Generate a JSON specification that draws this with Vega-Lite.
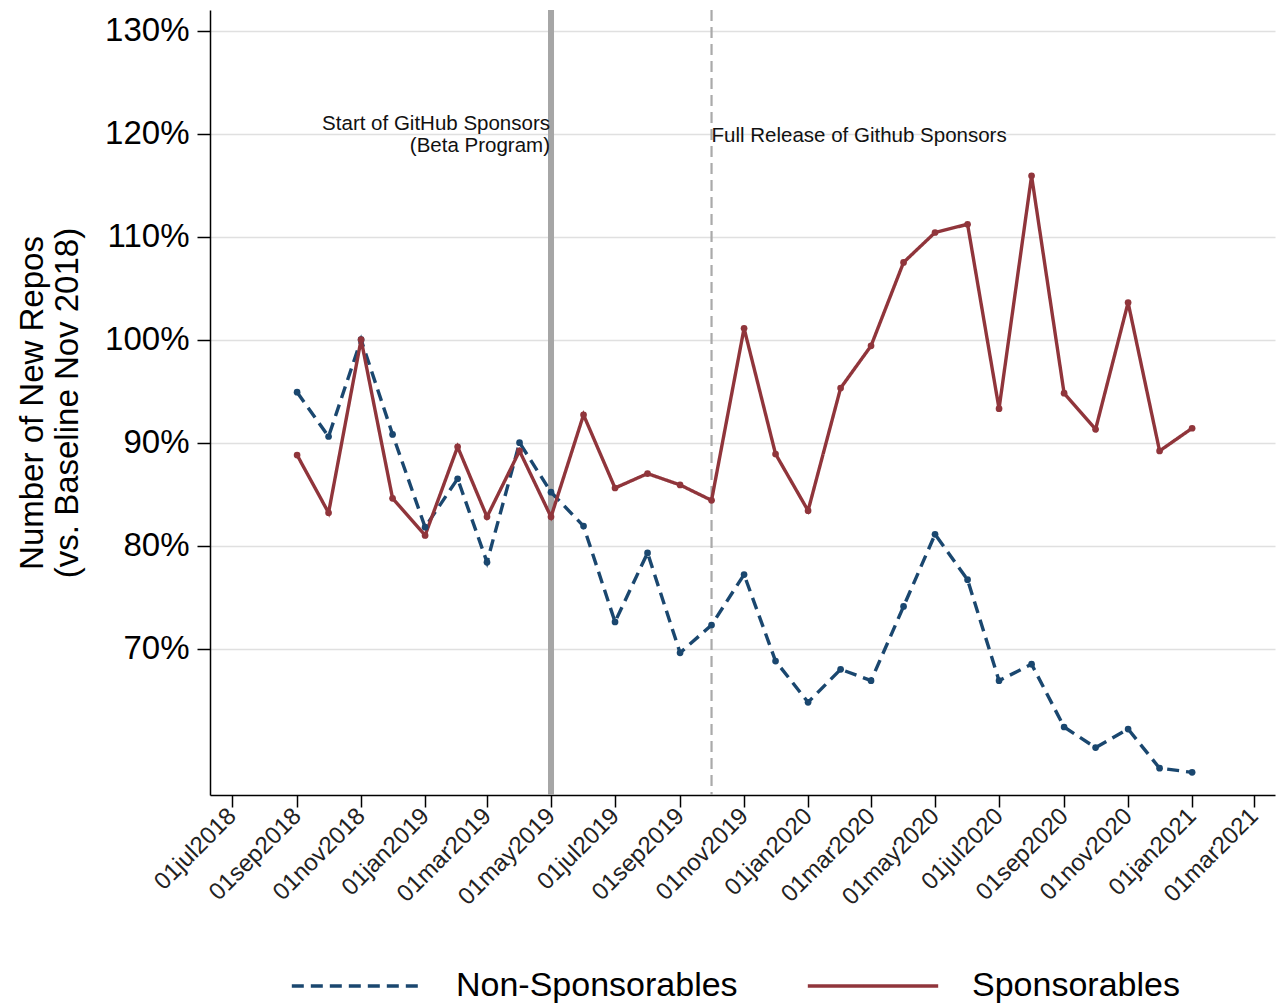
{
  "$schema": "https://vega.github.io/schema/vega-lite/v6.json",
  "width": 1065,
  "height": 785,
  "autosize": {"type": "none"},
  "padding": {"left": 210, "top": 10, "right": 6, "bottom": 211},
  "background": "white",
  "config": {
    "view": {"stroke": null},
    "font": "Liberation Sans",
    "axis": {"labelColor": "black", "titleColor": "black", "domainColor": "black", "tickColor": "black", "labelFont": "Liberation Sans", "titleFont": "Liberation Sans"}
  },
  "datasets": {
    "series": [
      {"date": "2018-09-01", "series": "Non-Sponsorables", "value": 94.9},
      {"date": "2018-10-01", "series": "Non-Sponsorables", "value": 90.6},
      {"date": "2018-11-01", "series": "Non-Sponsorables", "value": 100.0},
      {"date": "2018-12-01", "series": "Non-Sponsorables", "value": 90.8},
      {"date": "2019-01-01", "series": "Non-Sponsorables", "value": 81.8},
      {"date": "2019-02-01", "series": "Non-Sponsorables", "value": 86.5},
      {"date": "2019-03-01", "series": "Non-Sponsorables", "value": 78.4},
      {"date": "2019-04-01", "series": "Non-Sponsorables", "value": 90.0},
      {"date": "2019-05-01", "series": "Non-Sponsorables", "value": 85.2},
      {"date": "2019-06-01", "series": "Non-Sponsorables", "value": 81.9},
      {"date": "2019-07-01", "series": "Non-Sponsorables", "value": 72.6},
      {"date": "2019-08-01", "series": "Non-Sponsorables", "value": 79.3},
      {"date": "2019-09-01", "series": "Non-Sponsorables", "value": 69.6},
      {"date": "2019-10-01", "series": "Non-Sponsorables", "value": 72.3},
      {"date": "2019-11-01", "series": "Non-Sponsorables", "value": 77.2},
      {"date": "2019-12-01", "series": "Non-Sponsorables", "value": 68.8},
      {"date": "2020-01-01", "series": "Non-Sponsorables", "value": 64.8},
      {"date": "2020-02-01", "series": "Non-Sponsorables", "value": 68.0},
      {"date": "2020-03-01", "series": "Non-Sponsorables", "value": 66.9},
      {"date": "2020-04-01", "series": "Non-Sponsorables", "value": 74.1},
      {"date": "2020-05-01", "series": "Non-Sponsorables", "value": 81.1},
      {"date": "2020-06-01", "series": "Non-Sponsorables", "value": 76.7},
      {"date": "2020-07-01", "series": "Non-Sponsorables", "value": 66.9},
      {"date": "2020-08-01", "series": "Non-Sponsorables", "value": 68.5},
      {"date": "2020-09-01", "series": "Non-Sponsorables", "value": 62.4},
      {"date": "2020-10-01", "series": "Non-Sponsorables", "value": 60.4},
      {"date": "2020-11-01", "series": "Non-Sponsorables", "value": 62.2},
      {"date": "2020-12-01", "series": "Non-Sponsorables", "value": 58.4},
      {"date": "2021-01-01", "series": "Non-Sponsorables", "value": 58.0},
      {"date": "2018-09-01", "series": "Sponsorables", "value": 88.8},
      {"date": "2018-10-01", "series": "Sponsorables", "value": 83.2},
      {"date": "2018-11-01", "series": "Sponsorables", "value": 100.0},
      {"date": "2018-12-01", "series": "Sponsorables", "value": 84.6},
      {"date": "2019-01-01", "series": "Sponsorables", "value": 81.0},
      {"date": "2019-02-01", "series": "Sponsorables", "value": 89.6},
      {"date": "2019-03-01", "series": "Sponsorables", "value": 82.8},
      {"date": "2019-04-01", "series": "Sponsorables", "value": 89.2},
      {"date": "2019-05-01", "series": "Sponsorables", "value": 82.8},
      {"date": "2019-06-01", "series": "Sponsorables", "value": 92.7},
      {"date": "2019-07-01", "series": "Sponsorables", "value": 85.6},
      {"date": "2019-08-01", "series": "Sponsorables", "value": 87.0},
      {"date": "2019-09-01", "series": "Sponsorables", "value": 85.9},
      {"date": "2019-10-01", "series": "Sponsorables", "value": 84.4},
      {"date": "2019-11-01", "series": "Sponsorables", "value": 101.1},
      {"date": "2019-12-01", "series": "Sponsorables", "value": 88.9},
      {"date": "2020-01-01", "series": "Sponsorables", "value": 83.4},
      {"date": "2020-02-01", "series": "Sponsorables", "value": 95.3},
      {"date": "2020-03-01", "series": "Sponsorables", "value": 99.4},
      {"date": "2020-04-01", "series": "Sponsorables", "value": 107.5},
      {"date": "2020-05-01", "series": "Sponsorables", "value": 110.4},
      {"date": "2020-06-01", "series": "Sponsorables", "value": 111.2},
      {"date": "2020-07-01", "series": "Sponsorables", "value": 93.3},
      {"date": "2020-08-01", "series": "Sponsorables", "value": 115.9},
      {"date": "2020-09-01", "series": "Sponsorables", "value": 94.8},
      {"date": "2020-10-01", "series": "Sponsorables", "value": 91.3},
      {"date": "2020-11-01", "series": "Sponsorables", "value": 103.6},
      {"date": "2020-12-01", "series": "Sponsorables", "value": 89.2},
      {"date": "2021-01-01", "series": "Sponsorables", "value": 91.4}
    ],
    "beta": [{"date": "2019-05-01"}],
    "full": [{"date": "2019-10-01"}],
    "notesRight": [
      {"date": "2019-05-01", "value": 120.9, "label": "Start of GitHub Sponsors"},
      {"date": "2019-05-01", "value": 118.8, "label": "(Beta Program)"}
    ],
    "notesLeft": [
      {"date": "2019-10-01", "value": 119.8, "label": "Full Release of Github Sponsors"}
    ]
  },
  "encoding": {
    "x": {
      "field": "date",
      "type": "temporal",
      "scale": {
        "type": "utc",
        "domain": [
          {"year": 2018, "month": 6, "date": 10, "utc": true},
          {"year": 2021, "month": 3, "date": 21, "utc": true}
        ]
      },
      "axis": {
        "title": null,
        "grid": false,
        "values": [
          {"year": 2018, "month": 7, "date": 1, "utc": true},
          {"year": 2018, "month": 9, "date": 1, "utc": true},
          {"year": 2018, "month": 11, "date": 1, "utc": true},
          {"year": 2019, "month": 1, "date": 1, "utc": true},
          {"year": 2019, "month": 3, "date": 1, "utc": true},
          {"year": 2019, "month": 5, "date": 1, "utc": true},
          {"year": 2019, "month": 7, "date": 1, "utc": true},
          {"year": 2019, "month": 9, "date": 1, "utc": true},
          {"year": 2019, "month": 11, "date": 1, "utc": true},
          {"year": 2020, "month": 1, "date": 1, "utc": true},
          {"year": 2020, "month": 3, "date": 1, "utc": true},
          {"year": 2020, "month": 5, "date": 1, "utc": true},
          {"year": 2020, "month": 7, "date": 1, "utc": true},
          {"year": 2020, "month": 9, "date": 1, "utc": true},
          {"year": 2020, "month": 11, "date": 1, "utc": true},
          {"year": 2021, "month": 1, "date": 1, "utc": true},
          {"year": 2021, "month": 3, "date": 1, "utc": true}
        ],
        "labelExpr": "lower(utcFormat(datum.value, '%d%b%Y'))",
        "labelAngle": -45,
        "labelAlign": "right",
        "labelBaseline": "middle",
        "labelFontSize": 24,
        "labelColor": "#222222",
        "labelPadding": 5,
        "tickSize": 12,
        "tickWidth": 1.5,
        "domainWidth": 1.5,
        "labelOverlap": false,
        "labelFlush": false,
        "labelBound": false
      }
    }
  },
  "layer": [
    {
      "data": {"name": "beta"},
      "mark": {"type": "rule", "color": "#a6a6a6", "strokeWidth": 6},
      "encoding": {}
    },
    {
      "data": {"name": "full"},
      "mark": {"type": "rule", "color": "#aaaaaa", "strokeWidth": 2.2, "strokeDash": [11, 6]},
      "encoding": {}
    },
    {
      "data": {"name": "notesRight"},
      "mark": {"type": "text", "align": "right", "baseline": "middle", "fontSize": 20.5, "dx": -1, "color": "#111111"},
      "encoding": {
        "y": {"field": "value", "type": "quantitative"},
        "text": {"field": "label"}
      }
    },
    {
      "data": {"name": "notesLeft"},
      "mark": {"type": "text", "align": "left", "baseline": "middle", "fontSize": 20.5, "dx": 0, "color": "#111111"},
      "encoding": {
        "y": {"field": "value", "type": "quantitative"},
        "text": {"field": "label"}
      }
    },
    {
      "data": {"name": "series"},
      "mark": {"type": "line", "strokeWidth": 3.4, "point": {"filled": true, "size": 45}},
      "encoding": {
        "y": {
          "field": "value",
          "type": "quantitative",
          "scale": {"domain": [55.8, 132], "nice": false, "zero": false},
          "axis": {
            "values": [70, 80, 90, 100, 110, 120, 130],
            "labelExpr": "datum.value + '%'",
            "labelFontSize": 33,
            "labelPadding": 8,
            "tickSize": 13,
            "tickWidth": 1.5,
            "domainWidth": 1.5,
            "grid": true,
            "gridColor": "#e0e0e0",
            "gridWidth": 1.5,
            "title": ["Number of New Repos", "(vs. Baseline Nov 2018)"],
            "titleFontSize": 33,
            "titleFontWeight": "normal",
            "titlePadding": 20,
            "titleLineHeight": 35
          }
        },
        "color": {
          "field": "series",
          "type": "nominal",
          "scale": {"domain": ["Non-Sponsorables", "Sponsorables"], "range": ["#1a476f", "#90353b"]},
          "legend": {
            "title": null,
            "orient": "none",
            "legendX": 80,
            "legendY": 909,
            "direction": "horizontal",
            "symbolType": "stroke",
            "labelFontSize": 34,
            "labelColor": "black",
            "labelLimit": 1000,
            "labelOffset": 32,
            "columnPadding": 62,
            "symbolSize": 17000,
            "symbolStrokeWidth": 3.6
          }
        },
        "strokeDash": {
          "field": "series",
          "type": "nominal",
          "scale": {"domain": ["Non-Sponsorables", "Sponsorables"], "range": [[12, 7], [1, 0]]},
          "legend": {
            "title": null,
            "orient": "none",
            "legendX": 80,
            "legendY": 909,
            "direction": "horizontal",
            "symbolType": "stroke",
            "labelFontSize": 34,
            "labelColor": "black",
            "labelLimit": 1000,
            "labelOffset": 32,
            "columnPadding": 62,
            "symbolSize": 17000,
            "symbolStrokeWidth": 3.6
          }
        }
      }
    }
  ]
}
